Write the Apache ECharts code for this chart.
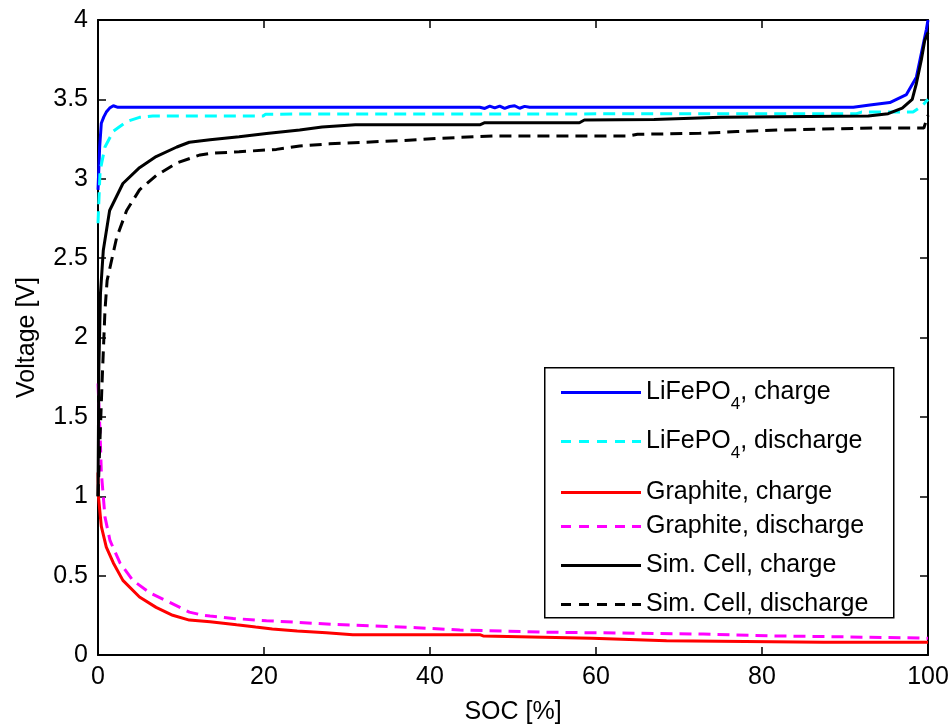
<!DOCTYPE html>
<html>
<head>
<meta charset="utf-8">
<script src="https://cdn.jsdelivr.net/npm/echarts@6/dist/echarts.min.js"></script>
<style>
html,body{margin:0;padding:0;background:#fff;}
#chart{width:950px;height:724px;}
</style>
</head>
<body>
<div id="chart"></div>
<script>
// ---- Data ----
const xTicks = [0, 20, 40, 60, 80, 100];
const yTicks = [0, 0.5, 1, 1.5, 2, 2.5, 3, 3.5, 4];

const lfpChargeSoc = [0, 0.2, 0.4, 0.7, 1.0, 1.4, 1.85, 2.4, 20, 46, 46.6, 47.2, 47.8, 48.4, 49, 49.6, 50.2, 50.8, 51.4, 52, 75, 91, 93, 95.4, 97.4, 98.6, 99.2, 99.8, 100];
const lfpChargeV   = [2.93, 3.2, 3.35, 3.39, 3.42, 3.445, 3.46, 3.45, 3.45, 3.45, 3.443, 3.457, 3.446, 3.458, 3.443, 3.455, 3.46, 3.444, 3.456, 3.45, 3.45, 3.45, 3.465, 3.48, 3.53, 3.64, 3.79, 3.94, 4.0];

const lfpDischSoc = [0, 0.25, 0.84, 1.85, 3.45, 5.0, 6.6, 19.9, 20.2, 91.4, 92, 98.2, 99.3, 100];
const lfpDischV   = [2.72, 3.05, 3.2, 3.30, 3.36, 3.387, 3.395, 3.395, 3.407, 3.41, 3.42, 3.42, 3.46, 3.5];

const grChargeSoc = [0, 0.05, 0.4, 1.0, 1.85, 3.0, 5.0, 7.0, 9.0, 11.0, 13.5, 16.7, 19, 21, 24, 27.5, 30.7, 46, 46.4, 59.5, 68.5, 87.4, 100];
const grChargeV   = [1.15, 1.0, 0.81, 0.68, 0.58, 0.47, 0.365, 0.30, 0.25, 0.22, 0.21, 0.19, 0.176, 0.164, 0.151, 0.14, 0.128, 0.128, 0.12, 0.105, 0.09, 0.08, 0.08];

const grDischSoc = [0, 0.25, 0.4, 0.84, 1.45, 2.65, 4.2, 6.3, 8.7, 11, 12.7, 13.5, 16.3, 20.3, 24, 28.3, 38.4, 43.6, 54.8, 60, 72.9, 81.8, 97, 100];
const grDischV   = [1.71, 1.40, 1.15, 0.87, 0.72, 0.58, 0.47, 0.39, 0.33, 0.27, 0.25, 0.245, 0.23, 0.216, 0.206, 0.193, 0.172, 0.157, 0.143, 0.14, 0.132, 0.12, 0.109, 0.105];

const cellChargeSoc = [0, 0.1, 0.3, 0.64, 1.4, 3.0, 5.0, 7.0, 9.5, 11, 13.5, 17, 20.3, 24.3, 27, 31, 46, 46.6, 58, 58.6, 67, 75, 92.8, 95.2, 96.9, 98.1, 98.6, 99.2, 99.6, 100];
const cellChargeV   = [1.0, 1.8, 2.28, 2.55, 2.80, 2.97, 3.07, 3.14, 3.20, 3.23, 3.245, 3.265, 3.285, 3.307, 3.326, 3.34, 3.34, 3.353, 3.353, 3.37, 3.374, 3.387, 3.395, 3.41, 3.445, 3.5, 3.6, 3.75, 3.87, 3.92];

const cellDischSoc = [0, 0.2, 0.5, 0.84, 1.1, 1.4, 2.25, 3.45, 5.0, 7.0, 9.5, 12.3, 13.5, 17, 21.5, 24.3, 27.9, 36.4, 41.2, 47.8, 64, 65, 72.5, 77, 82, 94, 99.5, 100];
const cellDischV   = [1.0, 1.3, 1.73, 2.17, 2.36, 2.43, 2.63, 2.80, 2.93, 3.02, 3.10, 3.15, 3.16, 3.17, 3.185, 3.206, 3.22, 3.24, 3.255, 3.27, 3.27, 3.28, 3.286, 3.297, 3.307, 3.32, 3.32, 3.40];

const seriesNames = ['LiFePO4, charge', 'LiFePO4, discharge', 'Graphite, charge', 'Graphite, discharge', 'Sim. Cell, charge', 'Sim. Cell, discharge'];
const seriesColors = ['#0000FF', '#00FFFF', '#FF0000', '#FF00FF', '#000000', '#000000'];
const seriesDashed = [false, true, false, true, false, true];
const seriesX = [lfpChargeSoc, lfpDischSoc, grChargeSoc, grDischSoc, cellChargeSoc, cellDischSoc];
const seriesY = [lfpChargeV, lfpDischV, grChargeV, grDischV, cellChargeV, cellDischV];

// ---- Layout ----
const FONT = 'Liberation Sans, Arial, sans-serif';
const FS = 25;
const gridL = 98, gridT = 20, gridR = 22, gridB = 69;
const legendRowTops = [380, 429, 480, 514, 553, 592];
const ICON_SOLID = 'path://M0,0H80V3H0Z';
const ICON_DASH = 'path://M0,0H10V3H0Z M18,0H28V3H18Z M36,0H46V3H36Z M54,0H64V3H54Z M71,0H80V3H71Z';

const zip = (xs, ys) => xs.map((x, i) => [x, ys[i]]);

const series = seriesNames.map((n, i) => ({
  name: n,
  type: 'line',
  data: zip(seriesX[i], seriesY[i]),
  symbol: 'none',
  smooth: false,
  animation: false,
  lineStyle: { color: seriesColors[i], width: 3, type: seriesDashed[i] ? [12, 7] : 'solid' },
  itemStyle: { color: seriesColors[i] },
  z: 2
}));

const fmtName = n => n.replace('LiFePO4', 'LiFePO{sub|4}');

const legends = seriesNames.map((n, i) => ({
  data: [{ name: n, icon: seriesDashed[i] ? ICON_DASH : ICON_SOLID }],
  left: 561,
  top: legendRowTops[i],
  orient: 'vertical',
  itemWidth: 80,
  itemHeight: 3,
  symbolKeepAspect: false,
  padding: 0,
  selectedMode: false,
  formatter: fmtName,
  textStyle: {
    fontFamily: FONT, fontSize: FS, color: '#000',
    rich: { sub: { fontFamily: FONT, fontSize: 17, color: '#000', padding: [24, 0, 0, 0] } }
  },
  z: 5
}));

const axisCommon = {
  axisLine: { show: true, onZero: false, lineStyle: { color: '#000', width: 2 } },
  axisTick: { show: true, inside: true, length: 8, lineStyle: { color: '#000', width: 1.5 } },
  splitLine: { show: false }
};

const option = {
  backgroundColor: '#fff',
  animation: false,
  grid: { left: gridL, top: gridT, right: gridR, bottom: gridB, containLabel: false, outerBoundsMode: 'none' },
  xAxis: [
    Object.assign({
      type: 'value', min: 0, max: 100, interval: 20, position: 'bottom',
      name: 'SOC [%]', nameLocation: 'middle', nameGap: 45,
      nameTextStyle: { fontFamily: FONT, fontSize: FS, color: '#000' },
      axisLabel: { fontFamily: FONT, fontSize: FS, color: '#000', margin: 10,
                   formatter: v => xTicks.includes(v) ? String(v) : '' }
    }, axisCommon),
    Object.assign({
      type: 'value', min: 0, max: 100, interval: 20, position: 'top',
      axisLabel: { show: false }
    }, axisCommon)
  ],
  yAxis: [
    Object.assign({
      type: 'value', min: 0, max: 4, interval: 0.5, position: 'left',
      name: 'Voltage [V]', nameLocation: 'middle', nameGap: 58, nameRotate: 90,
      nameTextStyle: { fontFamily: FONT, fontSize: FS, color: '#000' },
      axisLabel: { fontFamily: FONT, fontSize: FS, color: '#000', margin: 10,
                   formatter: v => yTicks.includes(v) ? String(v) : '' }
    }, axisCommon),
    Object.assign({
      type: 'value', min: 0, max: 4, interval: 0.5, position: 'right',
      axisLabel: { show: false }
    }, axisCommon)
  ],
  legend: legends,
  graphic: [{
    type: 'rect', left: 544, top: 367, z: 3,
    shape: { width: 349, height: 250 },
    style: { fill: '#fff', stroke: '#000', lineWidth: 1.5 }
  }],
  series: series
};

const chart = echarts.init(document.getElementById('chart'), null, { renderer: 'canvas' });
chart.setOption(option);
</script>
</body>
</html>
